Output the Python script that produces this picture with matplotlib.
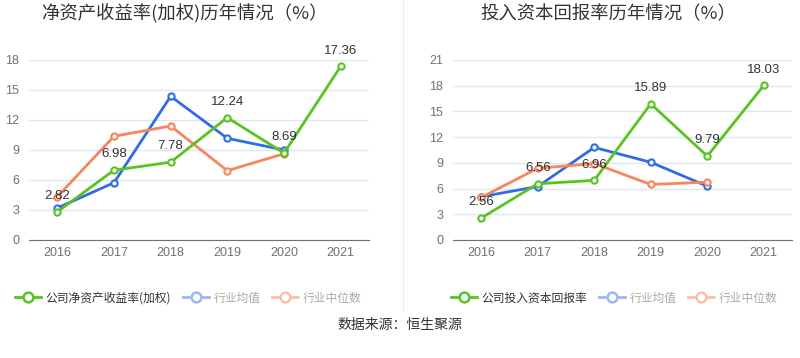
import matplotlib.pyplot as plt
from matplotlib.lines import Line2D

plt.rcParams['font.family'] = ['Noto Sans CJK SC', 'DejaVu Sans']
NUM_FONT = ['Liberation Sans', 'DejaVu Sans']

years = ['2016', '2017', '2018', '2019', '2020', '2021']

# ROE (weighted)
roe_company = [2.82, 6.98, 7.78, 12.24, 8.69, 17.36]
roe_mean = [3.2, 5.73, 14.37, 10.17, 9.0]
roe_median = [4.33, 10.37, 11.4, 6.93, 8.63]

# ROIC
roic_company = [2.56, 6.56, 6.96, 15.89, 9.79, 18.03]
roic_mean = [5.05, 6.24, 10.8, 9.07, 6.28]
roic_median = [4.97, 8.37, 8.92, 6.48, 6.75]

green = '#58c322'
blue = '#2f6de1'
orange = '#f8865c'
blue_light = '#9bb8f2'
orange_light = '#fbbfa8'


def draw_panel(ax, title, title_x, company, mean, median, ymax, legend_name, legend_x):
    x = list(range(len(years)))
    mk = dict(marker='o', markersize=4.5, markerfacecolor='white',
              markeredgewidth=1.5, linewidth=2)
    ax.plot(x[:len(mean)], mean, color=blue, **mk, zorder=3)
    ax.plot(x[:len(median)], median, color=orange, **mk, zorder=3)
    ax.plot(x, company, color=green, **mk, zorder=4)
    for xi, v in zip(x, company):
        ax.annotate(f'{v:.2f}', (xi, v), xytext=(0, 7), textcoords='offset points',
                    ha='center', va='bottom', fontsize=9.5, color='#333333',
                    family=NUM_FONT, zorder=5)

    ax.set_xlim(-0.5, len(years) - 0.5)
    ax.set_ylim(0, ymax)
    ax.set_yticks(range(0, ymax + 1, 3))
    ax.set_xticks(x)
    ax.set_xticklabels(years)
    ax.tick_params(axis='both', length=0, labelsize=9, labelcolor='#6e7079')
    ax.tick_params(axis='x', pad=5)
    ax.tick_params(axis='y', pad=7)
    for lab in ax.get_xticklabels() + ax.get_yticklabels():
        lab.set_family(NUM_FONT)
    ax.grid(axis='y', color='#e0e6f1', linewidth=1)
    ax.set_axisbelow(True)
    for s in ['top', 'right', 'left']:
        ax.spines[s].set_visible(False)
    ax.spines['bottom'].set_color('#6e7079')

    fig.text(title_x, 1 - 14 / 358, title, ha='center', va='center',
             fontsize=13.2, color='#333333')

    handles = [
        Line2D([], [], color=green, marker='o', markersize=7, markerfacecolor='white',
               markeredgewidth=1.8, linewidth=2),
        Line2D([], [], color=blue_light, marker='o', markersize=7, markerfacecolor='white',
               markeredgewidth=1.8, linewidth=2),
        Line2D([], [], color=orange_light, marker='o', markersize=7, markerfacecolor='white',
               markeredgewidth=1.8, linewidth=2),
    ]
    leg = fig.legend(handles, [legend_name, '行业均值', '行业中位数'], ncol=3,
                     loc='center left', bbox_to_anchor=(legend_x, 1 - 298 / 358),
                     frameon=False, fontsize=8.5, handlelength=2.2, handletextpad=0.4,
                     columnspacing=1.0)
    cols = ['#333333', '#aaaaaa', '#aaaaaa']
    for t, c in zip(leg.get_texts(), cols):
        t.set_color(c)


fig = plt.figure(figsize=(8, 3.58), dpi=100)
ax1 = fig.add_axes([29 / 800, 1 - 240 / 358, 340 / 800, 180 / 358])
ax2 = fig.add_axes([453 / 800, 1 - 240 / 358, 339 / 800, 180 / 358])

draw_panel(ax1, '净资产收益率(加权)历年情况（%）', 184 / 800, roe_company, roe_mean,
           roe_median, 18, '公司净资产收益率(加权)', 0.005)
draw_panel(ax2, '投入资本回报率历年情况（%）', 608 / 800, roic_company, roic_mean,
           roic_median, 21, '公司投入资本回报率', 0.55)

fig.add_artist(Line2D([403 / 800, 403 / 800], [1 - 312 / 358, 1], color='#eeeeee',
                      linewidth=1, transform=fig.transFigure))
fig.text(0.5, 1 - 325 / 358, '数据来源：恒生聚源', ha='center', va='center',
         fontsize=10, color='#333333')

fig.savefig('out.png', dpi=100)
